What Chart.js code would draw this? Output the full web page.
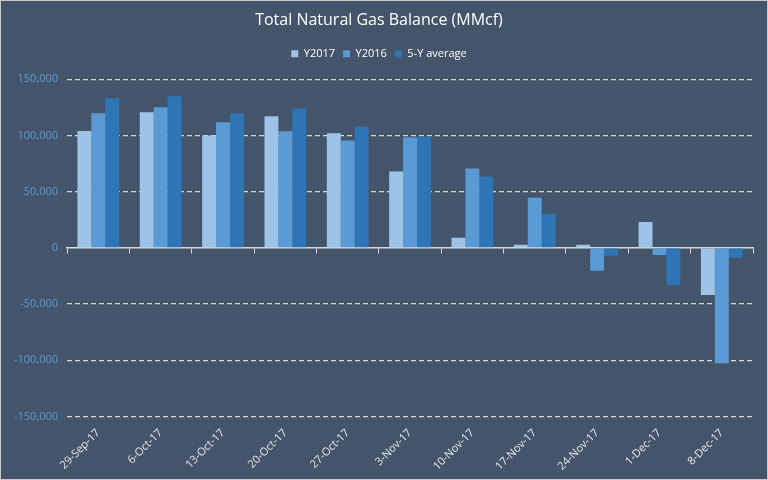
<!DOCTYPE html>
<html>
<head>
<meta charset="utf-8">
<script src="https://cdn.jsdelivr.net/npm/chart.js@4"></script>
<style>
  html, body { margin: 0; padding: 0; background: #fff; }
  #wrap { width: 768px; height: 480px; box-sizing: border-box; border: 1px solid #c8c8c8; background: #44546A; }
</style>
</head>
<body>
<div id="wrap"><canvas id="chart" width="766" height="478"></canvas></div>
<script>
// week labels
var weeks = ['29-Sep-17', '6-Oct-17', '13-Oct-17', '20-Oct-17', '27-Oct-17', '3-Nov-17',
             '10-Nov-17', '17-Nov-17', '24-Nov-17', '1-Dec-17', '8-Dec-17'];
// MMcf
var y2017 = [104000, 120500, 100000, 117000, 102000, 68000, 9000, 2700, 2700, 23000, -42000];
var y2016 = [119600, 125000, 111600, 103600, 95500, 98200, 70500, 44600, -20500, -6300, -102700];
var fiveYearAvg = [133000, 134800, 119600, 124000, 108000, 99100, 63400, 30400, -7100, -33000, -8900];

var gridGrey = '#D9D9D9';

// a bit more room under the legend
var legendGap = {
    id: 'legendGap',
    beforeInit: function(chart) {
        var fit = chart.legend.fit;
        chart.legend.fit = function() {
            fit.bind(chart.legend)();
            this.height += 10;
        };
    }
};

document.addEventListener('DOMContentLoaded', function() {
    var ctx = document.getElementById('chart').getContext('2d');
    new Chart(ctx, {
        type: 'bar',
        data: {
            labels: weeks,
            datasets: [
                { label: 'Y2017', data: y2017, backgroundColor: '#9DC3E6' },
                { label: 'Y2016', data: y2016, backgroundColor: '#5B9BD5' },
                { label: '5-Y average', data: fiveYearAvg, backgroundColor: '#2E75B6' }
            ]
        },
        plugins: [legendGap],
        options: {
            responsive: false,
            animation: false,
            layout: { padding: { left: 4, right: 14, top: 8, bottom: 4 } },
            datasets: { bar: { categoryPercentage: 0.67, barPercentage: 1.0 } },
            plugins: {
                title: {
                    display: true,
                    text: 'Total Natural Gas Balance (MMcf)',
                    color: '#ffffff',
                    font: { family: 'Open Sans', size: 16, weight: 'normal' },
                    padding: { top: 2, bottom: 10 }
                },
                legend: {
                    labels: {
                        color: '#ffffff',
                        font: { family: 'Open Sans', size: 11 },
                        boxWidth: 7,
                        boxHeight: 7,
                        padding: 8
                    }
                },
                tooltip: { enabled: false }
            },
            scales: {
                x: {
                    position: { y: 0 },
                    ticks: { display: false },
                    grid: { drawOnChartArea: false, color: gridGrey, tickLength: 5, offset: true },
                    border: { color: gridGrey, width: 1.5 }
                },
                x2: {
                    type: 'category',
                    labels: weeks,
                    position: 'bottom',
                    offset: true,
                    grid: { display: false },
                    border: { display: false },
                    ticks: {
                        color: '#E8E8E8',
                        font: { family: 'Open Sans', size: 11 },
                        minRotation: 45,
                        maxRotation: 45,
                        padding: 2
                    }
                },
                y: {
                    min: -150000,
                    max: 150000,
                    ticks: {
                        stepSize: 50000,
                        color: '#5B9BD5',
                        font: { family: 'Open Sans', size: 11 },
                        padding: 9
                    },
                    grid: {
                        drawTicks: false,
                        lineWidth: 1.2,
                        color: function(c) { return c.tick && c.tick.value === 0 ? 'rgba(0,0,0,0)' : gridGrey; }
                    },
                    border: { display: false, dash: [5, 3] }
                }
            }
        }
    });
});
</script>
</body>
</html>
